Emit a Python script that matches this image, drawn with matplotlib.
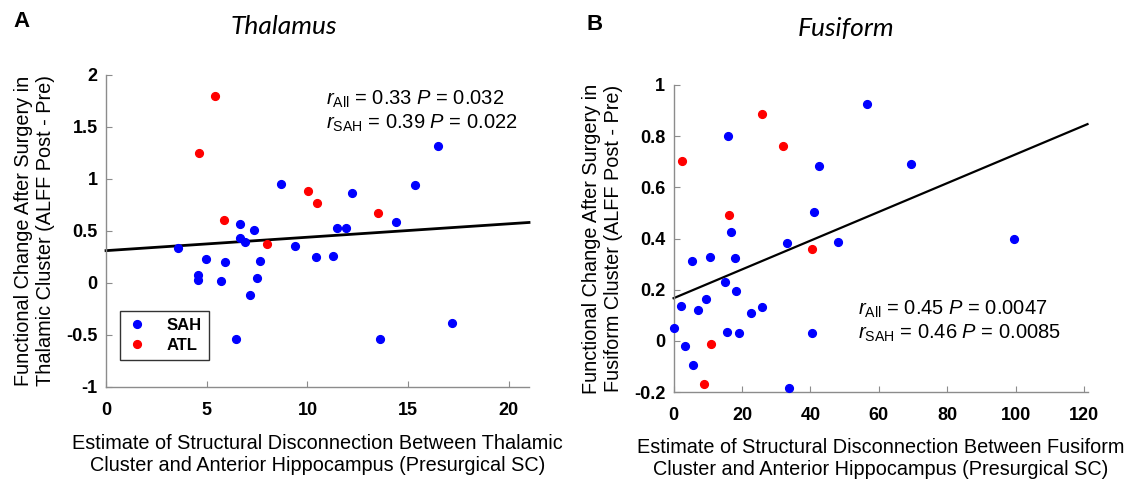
import numpy as np
import matplotlib
matplotlib.use("Agg")
import matplotlib.pyplot as plt

plt.rcParams["mathtext.fontset"] = "custom"
plt.rcParams["mathtext.rm"] = "Liberation Sans"
plt.rcParams["mathtext.it"] = "Liberation Sans:italic"

NARROW = ["Liberation Sans Narrow", "Liberation Sans"]
BLUE, RED = "#0000ff", "#ff0000"

# ---- panel A: thalamus ----
thal_sah_x = [16.49, 8.70, 15.36, 12.21, 14.41, 11.49, 11.92, 6.63, 7.34, 6.65, 6.88,
              3.58, 9.39, 4.98, 5.91, 7.62, 10.43, 11.29, 4.59, 4.59, 5.71, 7.52,
              7.13, 6.45, 13.61, 17.18]
thal_sah_y = [1.32, 0.95, 0.94, 0.86, 0.59, 0.53, 0.53, 0.57, 0.51, 0.43, 0.39,
              0.34, 0.35, 0.23, 0.20, 0.21, 0.25, 0.26, 0.08, 0.03, 0.02, 0.05,
              -0.12, -0.54, -0.54, -0.39]
thal_atl_x = [5.40, 4.62, 5.86, 7.99, 10.05, 10.46, 13.51]
thal_atl_y = [1.80, 1.25, 0.60, 0.37, 0.88, 0.77, 0.67]
thal_fit = (0.31, 0.0129)      # intercept, slope of the drawn fit line

# ---- panel B: fusiform ----
fus_sah_x = [56.4, 15.8, 69.3, 42.4, 40.9, 16.75, 99.5, 48.0, 33.1, 5.45, 10.7, 17.9,
             15.0, 18.3, 9.35, 2.24, 7.01, 22.6, 25.8, 0.0, 15.7, 19.1, 40.4, 3.21,
             5.75, 33.8]
fus_sah_y = [0.927, 0.800, 0.691, 0.682, 0.504, 0.426, 0.397, 0.385, 0.381, 0.314,
             0.328, 0.323, 0.230, 0.194, 0.163, 0.135, 0.121, 0.108, 0.134, 0.049,
             0.035, 0.033, 0.033, -0.020, -0.095, -0.185]
fus_atl_x = [2.34, 25.7, 32.1, 16.2, 40.6, 11.0, 8.77]
fus_atl_y = [0.704, 0.885, 0.760, 0.492, 0.358, -0.010, -0.168]
fus_fit = (0.167, 0.00562)

thal_stats = [r"$\mathit{r}_{\mathrm{All}}$ = 0.33 $\mathit{P}$ = 0.032",
              r"$\mathit{r}_{\mathrm{SAH}}$ = 0.39 $\mathit{P}$ = 0.022"]
fus_stats = [r"$\mathit{r}_{\mathrm{All}}$ = 0.45 $\mathit{P}$ = 0.0047",
             r"$\mathit{r}_{\mathrm{SAH}}$ = 0.46 $\mathit{P}$ = 0.0085"]

fig = plt.figure(figsize=(11.34, 4.8), dpi=100)
axA = fig.add_axes([0.0935, 0.194, 0.373, 0.650])
axB = fig.add_axes([0.594, 0.183, 0.365, 0.640])


def style(ax, xlim, ylim, xt, yt, ytl):
    ax.set_xlim(*xlim); ax.set_ylim(*ylim)
    ax.set_xticks(xt); ax.set_yticks(yt)
    ax.set_xticklabels([str(v) for v in xt])
    ax.set_yticklabels(ytl)
    for s in ["top", "right"]:
        ax.spines[s].set_visible(False)
    for s in ["left", "bottom"]:
        ax.spines[s].set_color("#8c8c8c"); ax.spines[s].set_linewidth(1.0)
    ax.tick_params(direction="in", length=4, color="#8c8c8c", pad=6)
    ax.tick_params(axis="x", pad=11)
    for t in ax.get_xticklabels() + ax.get_yticklabels():
        t.set_family(NARROW); t.set_fontweight("bold"); t.set_fontsize(13)


def panel(ax, sx, sy, ax_, ay_, fit, xl, lw):
    a, b = fit
    xx = np.array(xl)
    ax.plot(xx, a + b * xx, color="black", lw=lw, zorder=2, clip_on=False)
    ax.plot(sx, sy, "o", color=BLUE, ms=5.6, ls="none", label="SAH", zorder=3, clip_on=False)
    ax.plot(ax_, ay_, "o", color=RED, ms=5.6, ls="none", label="ATL", zorder=3, clip_on=False)


panel(axA, thal_sah_x, thal_sah_y, thal_atl_x, thal_atl_y, thal_fit, (0, 21), 2.0)
style(axA, (0, 21), (-1, 2), [0, 5, 10, 15, 20], [-1, -0.5, 0, 0.5, 1, 1.5, 2],
      ["-1", "-0.5", "0", "0.5", "1", "1.5", "2"])
leg = axA.legend(loc="lower left", bbox_to_anchor=(0.014, 0.06), frameon=True,
                 fancybox=False, edgecolor="black", handletextpad=1.2,
                 borderpad=0.4, labelspacing=0.3, handlelength=1.2,
                 prop={"family": "Liberation Sans", "weight": "bold", "size": 12})
leg.get_frame().set_linewidth(1.0)

panel(axB, fus_sah_x, fus_sah_y, fus_atl_x, fus_atl_y, fus_fit, (0, 121), 1.6)
style(axB, (0, 121), (-0.2, 1), [0, 20, 40, 60, 80, 100, 120],
      [-0.2, 0, 0.2, 0.4, 0.6, 0.8, 1], ["-0.2", "0", "0.2", "0.4", "0.6", "0.8", "1"])

for ax, lines, (x, y) in [(axA, thal_stats, (0.52, 0.923)), (axB, fus_stats, (0.445, 0.27))]:
    ax.text(x, y, lines[0], transform=ax.transAxes, fontsize=14.5, ha="left", va="center",
            family="Liberation Sans")
    ax.text(x, y - 0.077, lines[1], transform=ax.transAxes, fontsize=14.5, ha="left",
            va="center", family="Liberation Sans")

lab = dict(family=NARROW, fontsize=14.3, linespacing=1.2)
axA.set_xlabel("Estimate of Structural Disconnection Between Thalamic\n"
               "Cluster and Anterior Hippocampus (Presurgical SC)", labelpad=11, **lab)
axA.set_ylabel("Functional Change After Surgery in\nThalamic Cluster (ALFF Post - Pre)",
               labelpad=8, **lab)
axB.set_xlabel("Estimate of Structural Disconnection Between Fusiform\n"
               "Cluster and Anterior Hippocampus (Presurgical SC)", labelpad=10, **lab)
axB.set_ylabel("Functional Change After Surgery in\nFusiform Cluster (ALFF Post - Pre)",
               labelpad=8, **lab)

fig.text(0.250, 0.945, "Thalamus", fontsize=19, style="italic", family="Lato",
         ha="center", va="center")
fig.text(0.746, 0.940, "Fusiform", fontsize=19, style="italic", family="Lato",
         ha="center", va="center")
fig.text(0.012, 0.955, "A", fontsize=16, fontweight="bold", family="Liberation Sans",
         ha="left", va="center")
fig.text(0.517, 0.950, "B", fontsize=16, fontweight="bold", family="Liberation Sans",
         ha="left", va="center")

fig.savefig("out.png", dpi=100, facecolor="white")
